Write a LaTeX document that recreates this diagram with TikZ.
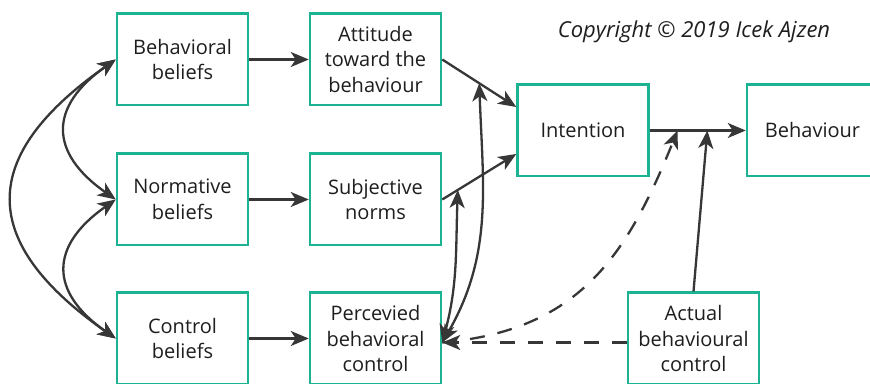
\documentclass[tikz,border=0pt]{standalone}
\usepackage{fontspec}
\setmainfont{Open Sans}
\usetikzlibrary{arrows.meta,calc}
\definecolor{boxgreen}{RGB}{27,179,146}
\definecolor{ink}{RGB}{55,55,55}
\definecolor{txt}{RGB}{30,30,30}
\begin{document}
\begin{tikzpicture}[x=1pt,y=1pt,
  box/.style={draw=boxgreen, line width=2.5pt, minimum width=131pt, minimum height=91.5pt,
    inner sep=0pt, align=center, font=\fontsize{20}{25.5}\selectfont, text=txt},
  tip/.tip={Stealth[length=18pt,width=15pt,inset=5pt]},
  arr/.style={draw=ink, line width=2.3pt, -tip},
  darr/.style={draw=ink, line width=2.3pt, tip-tip},
  dashline/.style={dash pattern=on 15pt off 13pt}
]
\useasboundingbox (0,0) rectangle (870,383);
\fill[white] (0,0) rectangle (870,383);

\node[box] (bb)  at (182.5,323.5) {Behavioral\\beliefs};
\node[box] (nb)  at (182.5,183.5) {Normative\\beliefs};
\node[box] (cb)  at (182.5,44.5)  {Control\\beliefs};
\node[box] (att) at (375.5,323.5) {Attitude\\toward the\\behaviour};
\node[box] (sn)  at (375.5,183.5) {Subjective\\norms};
\node[box] (pbc) at (375.5,44.5)  {Percevied\\behavioral\\control};
\node[box] (int) at (583,252.5)   {Intention};
\node[box] (beh) at (812.5,252.5) {Behaviour};
\node[box] (act) at (693.5,44.5)  {Actual\\behavioural\\control};

\node[anchor=base, text=txt, font=\itshape\fontsize{22}{24}\selectfont] (copy) at (694,345)
  {Copyright © 2019 Icek Ajzen};

% beliefs -> constructs
\draw[arr] (bb.east) -- (att.west);
\draw[arr] (nb.east) -- (sn.west);
\draw[arr] (cb.east) -- (pbc.west);

% constructs -> intention
\draw[arr] (att.east) -- coordinate[pos=0.5] (pa) ($(int.west)!0.5!(int.north west)$);
\draw[arr] (sn.east) -- coordinate[pos=0.21] (ps) ($(int.west)!0.5!(int.south west)$);

% intention -> behaviour
\draw[arr] (int.east) -- coordinate[pos=0.29] (pd) coordinate[pos=0.6] (pq) (beh.west);

% left correlations
\draw[darr] (bb.west) to[out=215,in=145,looseness=1.5] (nb.west);
\draw[darr] (nb.west) to[out=215,in=145,looseness=1.5] (cb.west);
\draw[darr] (bb.west) to[out=215,in=145,looseness=1.55] (cb.west);

% PBC links
\coordinate (pe) at ($(pbc.east)+(0,-4)$);
\draw[darr] (pe) to[out=60,in=272] (pa);
\draw[darr] (pe) to[out=75,in=268] (ps);
\draw[arr,dashline] (act.west |- pe) -- (pe);
\draw[arr,dashline] (pe) to[out=5,in=248,looseness=1.1] (pd);
\draw[arr] (act.north) -- (pq);
\end{tikzpicture}
\end{document}
